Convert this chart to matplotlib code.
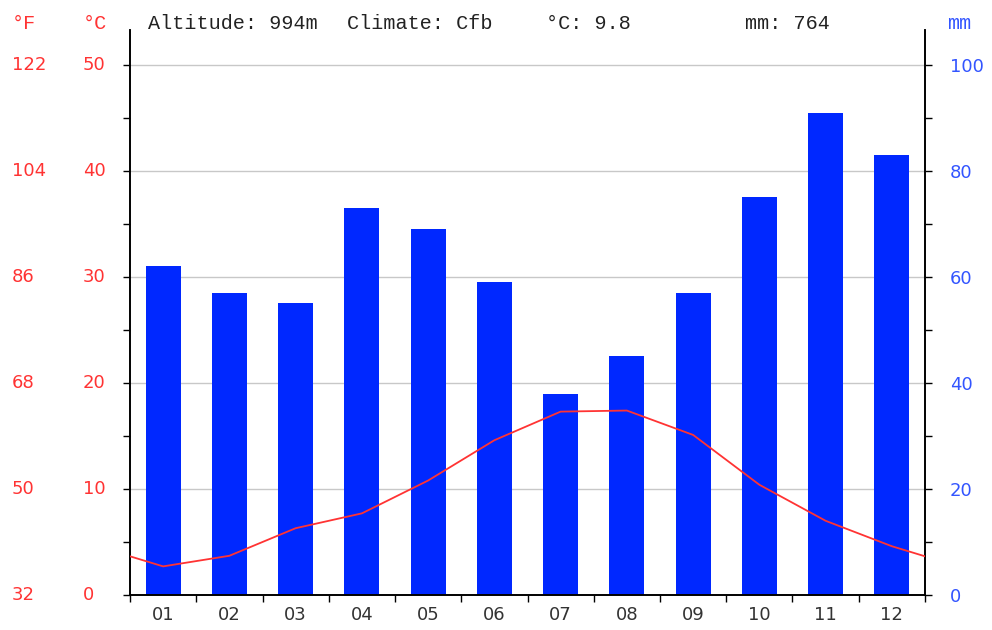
import matplotlib.pyplot as plt
from matplotlib import transforms

months = ["01", "02", "03", "04", "05", "06", "07", "08", "09", "10", "11", "12"]
precip_mm = [62, 57, 55, 73, 69, 59, 38, 45, 57, 75, 91, 83]
temp_c = [2.7, 3.7, 6.3, 7.7, 10.8, 14.6, 17.3, 17.4, 15.1, 10.4, 7.0, 4.6]
c_ticks = [0, 10, 20, 30, 40, 50]
f_labels = ["32", "50", "68", "86", "104", "122"]
mm_ticks = [0, 20, 40, 60, 80, 100]
header = ["Altitude: 994m", "Climate: Cfb", "°C: 9.8", "mm: 764"]

red = "#ff3333"
blue = "#0028ff"
blue_txt = "#3355ff"
W, H = 992, 630

fig = plt.figure(figsize=(9.92, 6.3), dpi=100)
ax2 = fig.add_axes([130 / W, 35 / H, 795 / W, 565 / H])
ax = ax2.twinx()
# twinx puts the new axes on the right; swap sides
ax.yaxis.tick_left()
ax2.yaxis.tick_right()

top_c = 53.3
ax.set_ylim(0, top_c)
ax2.set_ylim(0, top_c * 2)
ax2.set_xlim(-0.5, 11.5)

# grid behind bars
for m in mm_ticks[1:]:
    ax2.axhline(m, color="#c8c8c8", lw=1, zorder=0)

x = list(range(12))
ax2.bar(x, precip_mm, width=0.53, color=blue, zorder=2)

# temperature line wraps to the edges
xt = [-0.5] + x + [11.5]
edge = (temp_c[0] + temp_c[-1]) / 2
ax.plot(xt, [edge] + temp_c + [edge], color=red, lw=1.3, zorder=3)

ax.set_yticks(c_ticks)
ax.set_yticks([5, 15, 25, 35, 45], minor=True)
ax.set_yticklabels([])
ax.tick_params(axis="y", which="both", direction="out", length=5, width=1,
               colors="black")
ax2.set_yticks(mm_ticks)
ax2.set_yticks([10, 30, 50, 70, 90], minor=True)
ax2.tick_params(axis="y", which="both", direction="out", length=5, width=1,
                colors="black", labelcolor=blue_txt, labelsize=13, pad=13)
ax2.set_xticks([i + 0.5 for i in range(-1, 12)], minor=True)
ax2.set_xticks(x)
ax2.set_xticklabels(months)
ax2.tick_params(axis="x", which="major", length=0, labelsize=13, pad=8,
                labelcolor="#333333")
ax2.tick_params(axis="x", which="minor", direction="out", length=5, width=1)

for a in (ax, ax2):
    a.spines["top"].set_visible(False)
    for s in ("left", "right", "bottom"):
        a.spines[s].set_linewidth(1.2)

# Celsius and Fahrenheit labels, left aligned like the original
trans = transforms.blended_transform_factory(fig.transFigure, ax.transData)
for c, f in zip(c_ticks, f_labels):
    ax.text(83 / W, c, str(c), transform=trans, ha="left", va="center",
            color=red, fontsize=13, clip_on=False)
    ax.text(12 / W, c, f, transform=trans, ha="left", va="center",
            color=red, fontsize=13, clip_on=False)

base = 1 - 29 / H
fig.text(12 / W, base, "°F", color=red, fontsize=14.5,
         family="Liberation Mono", ha="left", va="baseline")
fig.text(83 / W, base, "°C", color=red, fontsize=14.5,
         family="Liberation Mono", ha="left", va="baseline")
fig.text(947 / W, base, "mm", color=blue_txt, fontsize=14.5,
         family="Liberation Mono", ha="left", va="baseline")

for i, h in enumerate(header):
    fig.text((148 + 199 * i) / W, base, h, fontsize=14.5,
             family="Liberation Mono", ha="left", va="baseline", color="#222222")

fig.savefig("out.png", dpi=100)
